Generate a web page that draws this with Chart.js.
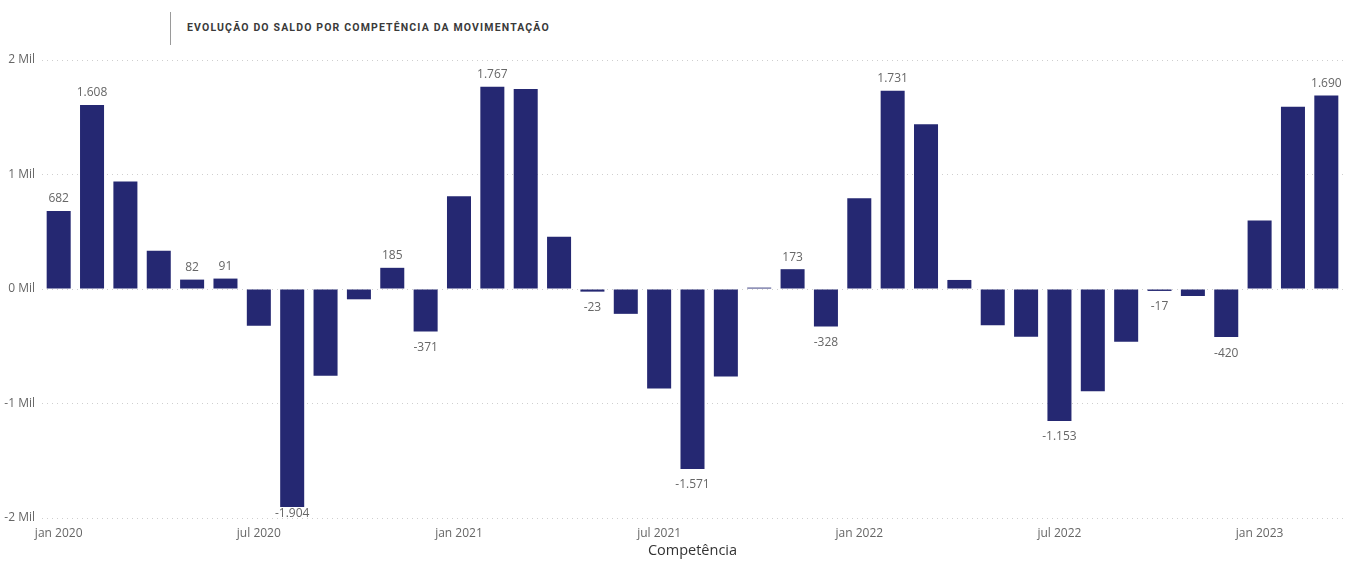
<!DOCTYPE html>
<html lang="pt-BR">
<head>
<meta charset="utf-8">
<title>Evolução do saldo por competência</title>
<script src="https://cdn.jsdelivr.net/npm/chart.js@4.4.0/dist/chart.umd.min.js"></script>
<style>
    html, body {
        margin: 0;
        padding: 0;
        background: #ffffff;
    }
    .frame {
        position: relative;
        width: 1359px;
        height: 565px;
        overflow: hidden;
    }
    .title-bar {
        position: absolute;
        left: 170px;
        top: 12px;
        width: 1px;
        height: 33px;
        background: #9a9a9a;
    }
    .title {
        position: absolute;
        left: 187px;
        top: 21px;
        font-family: Roboto, sans-serif;
        font-weight: 700;
        font-size: 10.5px;
        letter-spacing: 1.15px;
        color: #3a3a3a;
        white-space: nowrap;
    }
    .axis-title {
        position: absolute;
        left: 0;
        width: 1385px;
        top: 540px;
        text-align: center;
        font-family: "Open Sans", sans-serif;
        font-size: 14.5px;
        color: #333333;
    }
    #chart {
        position: absolute;
        left: 0;
        top: 0;
    }
</style>
</head>
<body>
<div class="frame">
    <div class="title-bar"></div>
    <div class="title">EVOLUÇÃO DO SALDO POR COMPETÊNCIA DA MOVIMENTAÇÃO</div>
    <canvas id="chart" width="1359" height="565"></canvas>
    <div class="axis-title">Competência</div>
</div>

<script>
// Data
const months = [
    'jan 2020', 'fev 2020', 'mar 2020', 'abr 2020', 'mai 2020', 'jun 2020',
    'jul 2020', 'ago 2020', 'set 2020', 'out 2020', 'nov 2020', 'dez 2020',
    'jan 2021', 'fev 2021', 'mar 2021', 'abr 2021', 'mai 2021', 'jun 2021',
    'jul 2021', 'ago 2021', 'set 2021', 'out 2021', 'nov 2021', 'dez 2021',
    'jan 2022', 'fev 2022', 'mar 2022', 'abr 2022', 'mai 2022', 'jun 2022',
    'jul 2022', 'ago 2022', 'set 2022', 'out 2022', 'nov 2022', 'dez 2022',
    'jan 2023', 'fev 2023', 'mar 2023'
];

const saldo = [
    682, 1608, 939, 333, 82, 91,
    -322, -1904, -757, -90, 185, -371,
    810, 1767, 1746, 456, -23, -217,
    -870, -1571, -765, 12, 173, -328,
    792, 1731, 1439, 79, -316, -417,
    -1153, -893, -461, -17, -61, -420,
    599, 1591, 1690
];

// which bars carry a data label in the reference
const labeled = [
    true, true, false, false, true, true,
    false, true, false, false, true, true,
    false, true, false, false, true, false,
    false, true, false, false, true, true,
    false, true, false, false, false, false,
    true, false, false, true, false, true,
    false, false, true
];

const tickLabels = ['jan 2020', 'jul 2020', 'jan 2021', 'jul 2021', 'jan 2022', 'jul 2022', 'jan 2023'];
const yTicks = [-2000, -1000, 0, 1000, 2000];

const BAR_COLOR = '#252872';
const TEXT_COLOR = '#666666';

function formatThousands(v) {
    const sign = v < 0 ? '-' : '';
    const s = String(Math.abs(v));
    return sign + s.replace(/\B(?=(\d{3})+(?!\d))/g, '.');
}

// Value labels above / below bars (kept inside the plot area)
const valueLabels = {
    id: 'valueLabels',
    afterDatasetsDraw(chart) {
        const ctx = chart.ctx;
        const area = chart.chartArea;
        const meta = chart.getDatasetMeta(0);
        ctx.save();
        ctx.font = '12px "Open Sans", sans-serif';
        ctx.fillStyle = TEXT_COLOR;
        ctx.textAlign = 'center';
        meta.data.forEach((bar, i) => {
            if (!labeled[i]) return;
            const v = saldo[i];
            if (v >= 0) {
                ctx.textBaseline = 'bottom';
                ctx.fillText(formatThousands(v), bar.x, bar.y - 6);
            } else {
                ctx.textBaseline = 'top';
                const y = Math.min(bar.y + 10, area.bottom - 10);
                ctx.fillText(formatThousands(v), bar.x, y);
            }
        });
        ctx.restore();
    }
};

const ctx = document.getElementById('chart').getContext('2d');
const chart = new Chart(ctx, {
    type: 'bar',
    data: {
        labels: months,
        datasets: [{
            data: saldo,
            backgroundColor: BAR_COLOR,
            borderWidth: 0,
            categoryPercentage: 1,
            barPercentage: 0.72
        }]
    },
    options: {
        responsive: false,
        animation: false,
        layout: {
            padding: { top: 60, right: 16, bottom: 0, left: 0 }
        },
        plugins: {
            legend: { display: false },
            tooltip: { enabled: false }
        },
        scales: {
            x: {
                grid: { display: false },
                border: { display: false },
                ticks: {
                    autoSkip: false,
                    maxRotation: 0,
                    padding: 0,
                    color: TEXT_COLOR,
                    font: { family: '"Open Sans", sans-serif', size: 12 },
                    callback: function (value, index) {
                        const label = months[index];
                        return tickLabels.includes(label) ? label : '';
                    }
                },
                afterFit(scale) {
                    scale.height = 47;
                }
            },
            y: {
                min: -2000,
                max: 2000,
                afterBuildTicks(scale) {
                    scale.ticks = yTicks.map(v => ({ value: v }));
                },
                afterFit(scale) {
                    scale.width = 42;
                },
                grid: {
                    color: '#cfcfcf',
                    lineWidth: 1,
                    drawTicks: false
                },
                border: { display: false, dash: [1, 4] },
                ticks: {
                    padding: 7,
                    color: TEXT_COLOR,
                    font: { family: '"Open Sans", sans-serif', size: 12 },
                    callback: v => (v / 1000) + ' Mil'
                }
            }
        }
    },
    plugins: [valueLabels]
});
</script>
</body>
</html>
